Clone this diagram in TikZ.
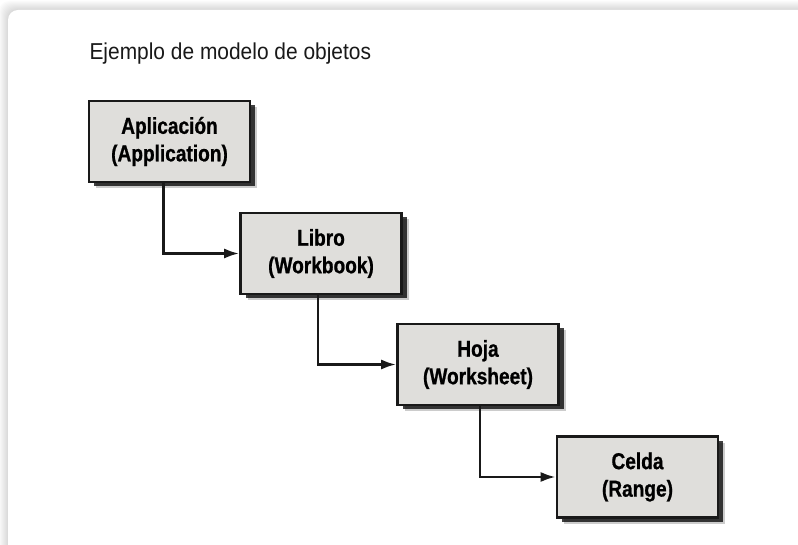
\documentclass[tikz,border=0pt]{standalone}
\usepackage{fontspec}
\setmainfont[FakeStretch=0.91]{Liberation Sans}
\newfontfamily\boxfont[FakeStretch=0.83, FakeBold=0.8]{Liberation Sans Bold}
\usetikzlibrary{arrows.meta,shadows}
\definecolor{boxgray}{RGB}{223,222,219}
\definecolor{inkgray}{RGB}{25,25,25}

\begin{document}
\begin{tikzpicture}[x=1pt,y=-1pt,
	objbox/.style={draw=inkgray, line width=2.6pt, fill=boxgray, minimum width=161pt, minimum height=81pt, inner sep=0pt, align=center,
		font=\boxfont\fontsize{23}{27.5}\selectfont,
		drop shadow={shadow xshift=7pt, shadow yshift=-6pt, fill=black, opacity=0.2},
		drop shadow={shadow xshift=5pt, shadow yshift=-4pt, fill=black, opacity=0.75}},
	link/.style={draw=inkgray, line width=2.6pt, -{Latex[length=15pt,width=10pt]}}]
	\useasboundingbox (0,0) rectangle (798,545);
	\clip (0,0) rectangle (798,545);
	\fill[white] (0,0) rectangle (798,545);
	% soft shadow round the frame
	\foreach \s in {9,...,1}
		\fill[black, opacity=0.014, rounded corners=10pt] (8-\s,10-\s) rectangle (840,580);
	\fill[white, rounded corners=10pt] (8,10) rectangle (840,580);
	\node[anchor=base west, text=inkgray, font=\fontsize{23}{27}\selectfont] (title) at (86,60) {Ejemplo de modelo de objetos};
	\node[objbox] (app) at (169.5,141.5) {Aplicación\\(Application)};
	\node[objbox] (libro) at (321,253.5) {Libro\\(Workbook)};
	\node[objbox] (hoja) at (478,364.5) {Hoja\\(Worksheet)};
	\node[objbox] (celda) at (637.5,477) {Celda\\(Range)};
	\draw[link] ([xshift=-6pt]app.south) |- (libro.west);
	\draw[link] ([xshift=-3pt]libro.south) |- (hoja.west);
	\draw[link] ([xshift=2pt]hoja.south) |- (celda.west);
\end{tikzpicture}
\end{document}
